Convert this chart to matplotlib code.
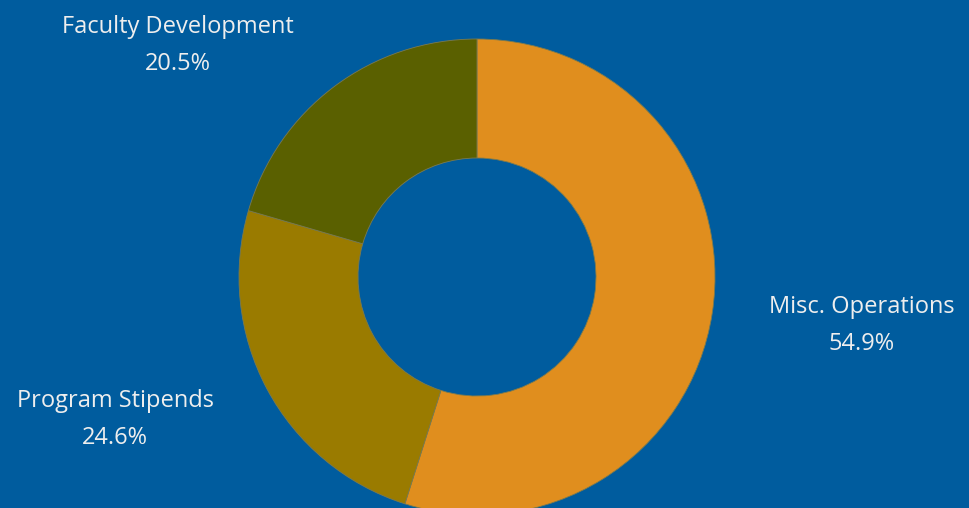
import matplotlib.pyplot as plt

# budget shares (percent), clockwise from 12 o'clock
categories = ["Misc. Operations", "Program Stipends", "Faculty Development"]
shares = [54.9, 24.6, 20.5]
colors = ["#E08E1E", "#9A7B00", "#5A6000"]

# label anchor points in pixels (relative to donut centre)
label_pos = [(385, -48), (-362, -142), (-299, 232)]

BG = "#005C9E"
TEXT = "#EEEEEE"

fig = plt.figure(figsize=(9.7, 5.08), dpi=100, facecolor=BG)
ax = fig.add_axes([0, 0, 1, 1])
ax.set_facecolor(BG)

cx, cy = 477, 277
R = 238

ax.pie(shares, colors=colors, startangle=90, counterclock=False,
       radius=R, center=(0, 0), frame=True,
       wedgeprops=dict(width=R / 2, linewidth=0.6, edgecolor="#7a7a50"))
ax.set_xlim(-cx, 970 - cx)
ax.set_ylim(-(508 - cy), cy)
ax.set_aspect("equal")
ax.axis("off")

for name, val, (dx, dy) in zip(categories, shares, label_pos):
    ax.text(dx, dy + 18, name, ha="center", va="center", color=TEXT,
            fontsize=17, family="Open Sans")
    ax.text(dx, dy - 19, f"{val}%", ha="center", va="center", color=TEXT,
            fontsize=17, family="Open Sans")

fig.savefig("out.png", dpi=100, facecolor=BG)
